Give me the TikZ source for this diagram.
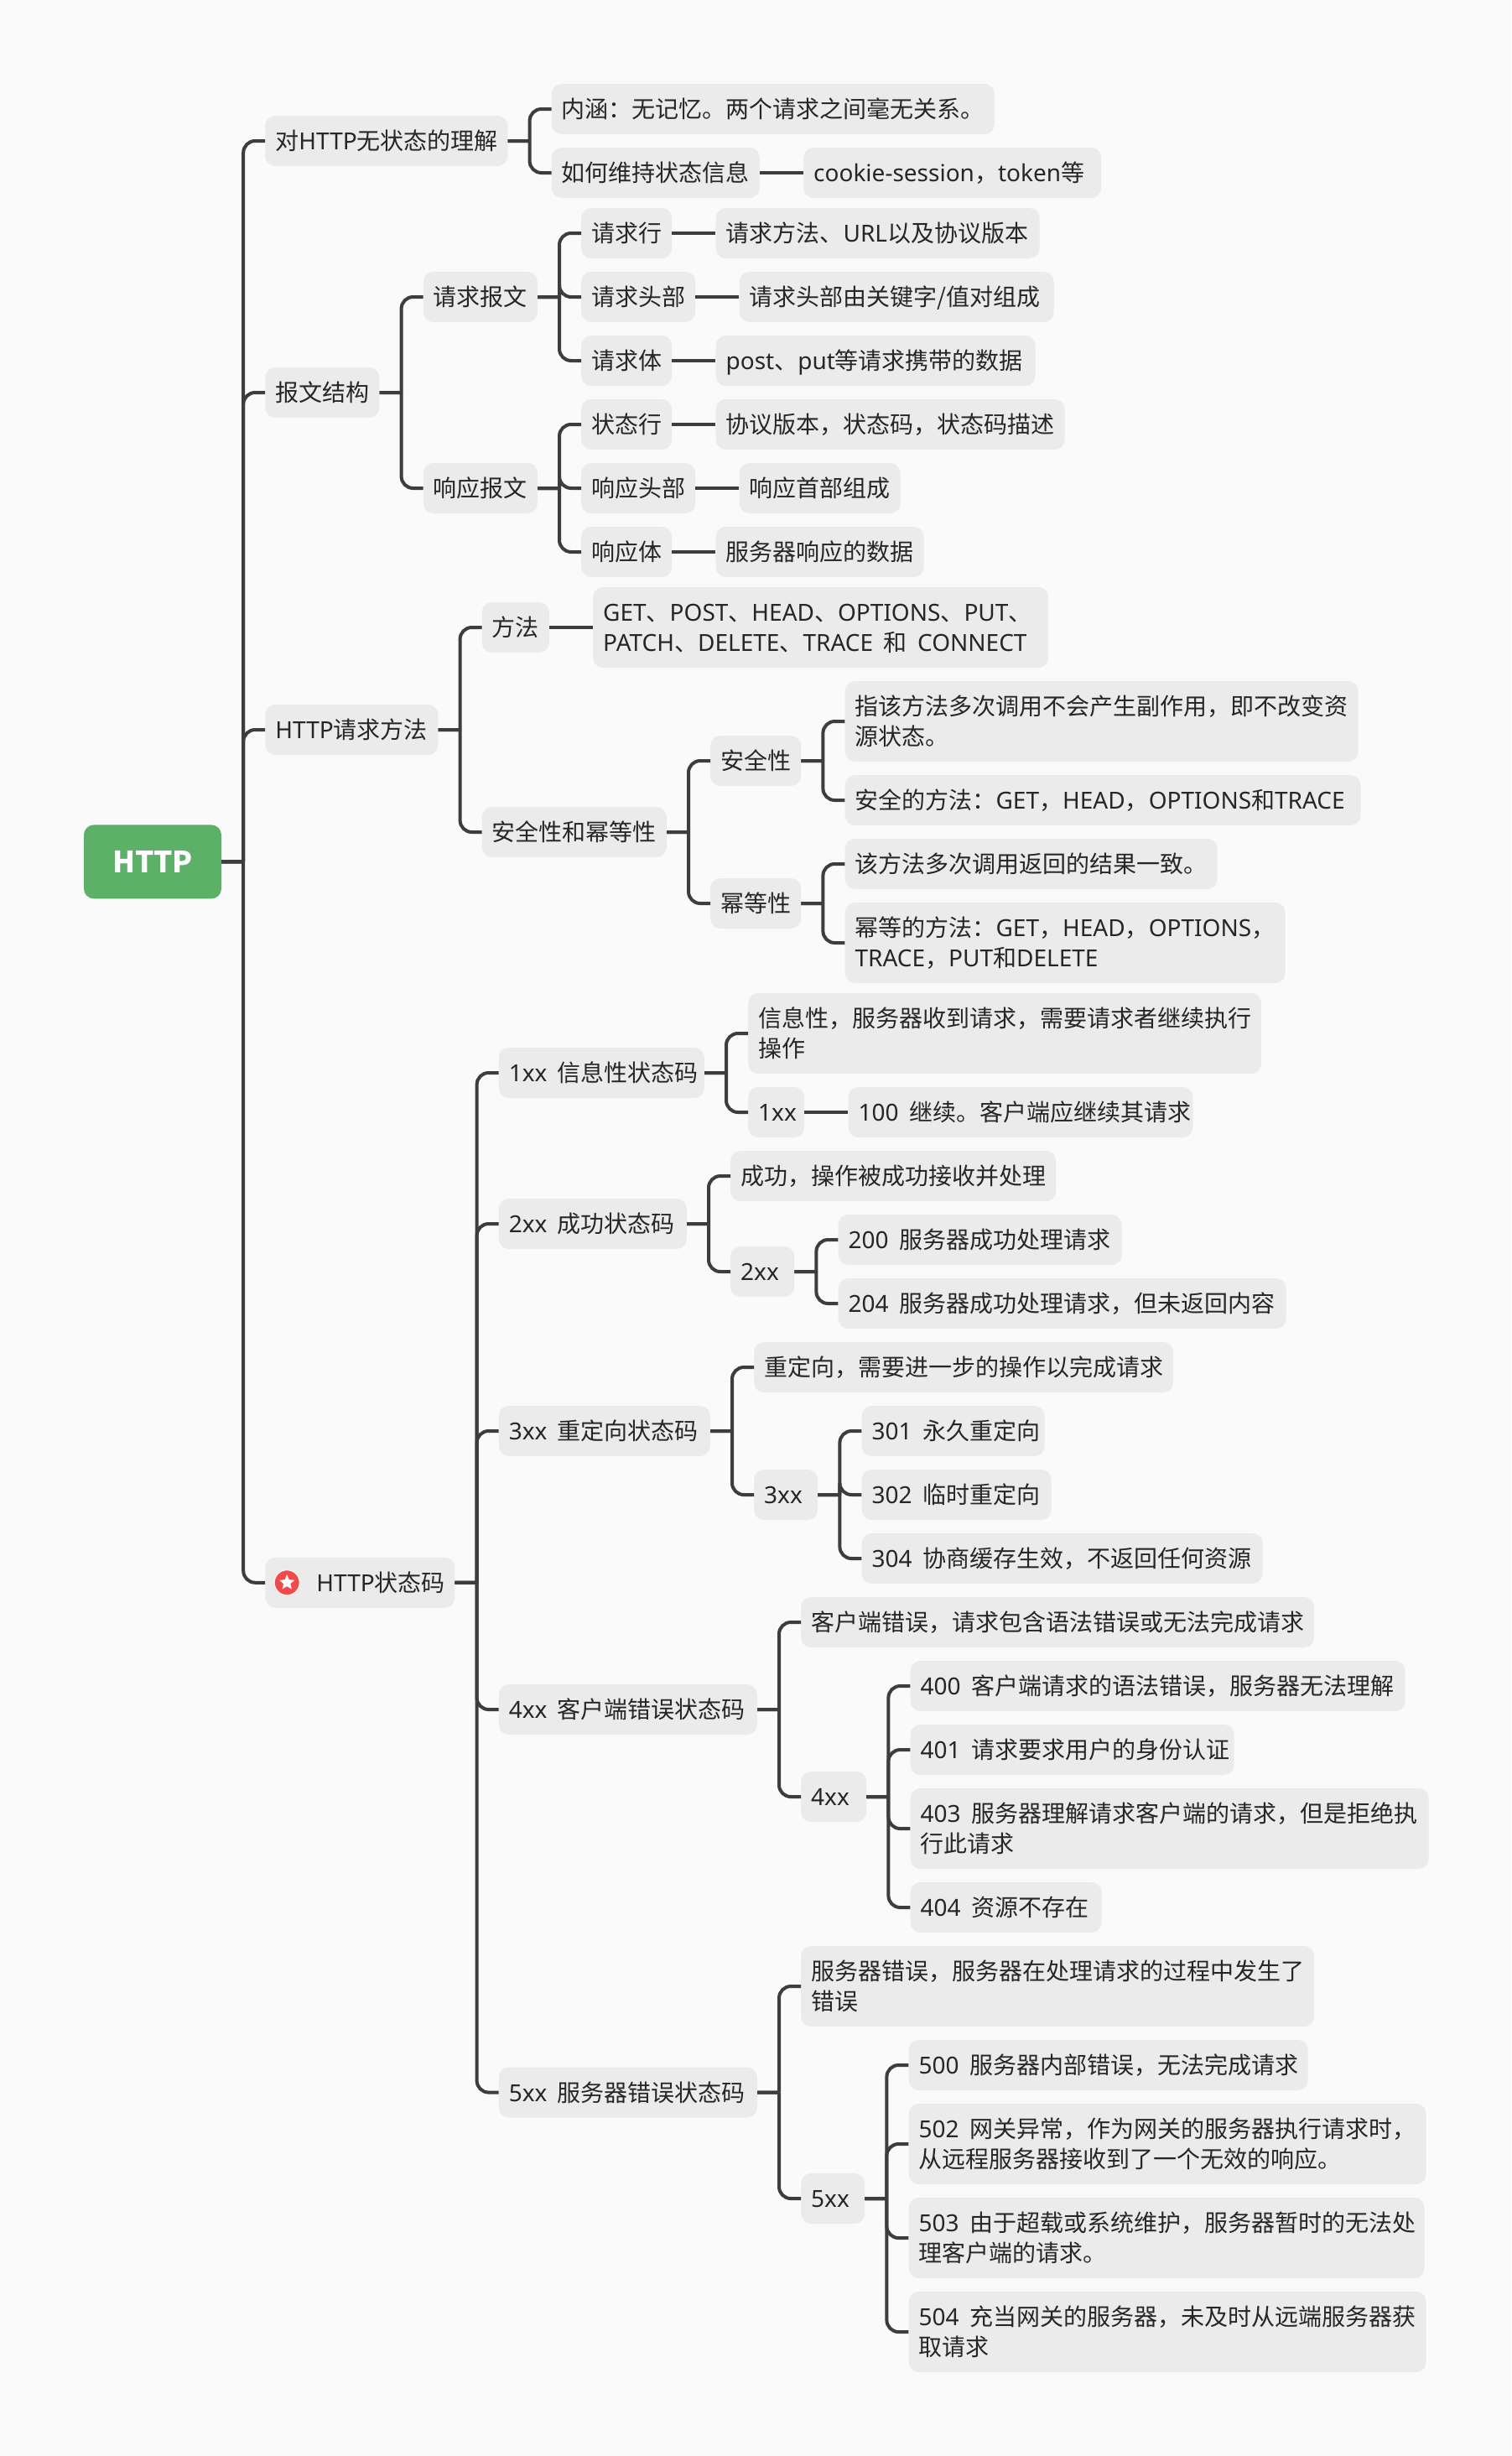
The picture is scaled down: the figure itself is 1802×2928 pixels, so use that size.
\documentclass[tikz,border=0pt]{standalone}
\usepackage{fontspec}
\usepackage{xcolor}
\usepackage{tikz}
\usetikzlibrary{positioning}
\usetikzlibrary{shapes.geometric}
\setmainfont{Noto Sans CJK SC}
\newfontfamily\latinface{Noto Sans}
\newcommand{\la}[1]{{\latinface #1}}
\definecolor{paper}{HTML}{FAFAFA}
\definecolor{boxgray}{HTML}{EBEBEB}
\definecolor{wire}{HTML}{3D3D3D}
\definecolor{ink}{HTML}{262626}
\definecolor{rootgreen}{HTML}{5CB068}
\definecolor{badgered}{HTML}{F2494B}
\newcommand{\widespace}{\spaceskip 12.5pt\relax}
\tikzset{
	topic/.style={fill=boxgray, text=ink, rounded corners=12pt, inner xsep=12pt, inner ysep=0pt, minimum height=60pt, align=left, text height=24.64pt, text depth=3.36pt, font=\fontsize{28}{36}\selectfont, execute at begin node=\widespace},
	twoline/.style={topic, minimum height=96pt, text depth=39.36pt},
	roottopic/.style={fill=rootgreen, text=white, rounded corners=12pt, minimum width=164pt, minimum height=88pt, inner sep=0pt, font=\fontsize{35}{42}\selectfont\bfseries},
	link/.style={draw=wire, line width=4pt},
	fork/.style={rounded corners=14pt, to path={(\tikztostart.east) -- ++(26pt,0) (\tikztostart.east) ++(26pt,0) |- (\tikztotarget.west)}},
	badge/.style={circle, fill=badgered, draw=white, line width=1pt, minimum size=30pt, inner sep=0pt},
	badgestar/.style={star, star points=5, star point ratio=2.2, fill=white, minimum size=19pt, inner sep=0pt},
	node distance=52pt
}
\begin{document}
\begin{tikzpicture}
	\useasboundingbox (0,0) rectangle (1802pt,-2928pt);
	\fill[paper] (0,0) rectangle (1802pt,-2928pt);

	\node[roottopic] (http) at (182pt,-1027.4pt) {HTTP};

	\node[topic, text width=265pt, right=of http, yshift=859.4pt] (concept) {对\la{HTTP}无状态的理解};
	\node[topic, text width=112pt, right=of http, yshift=559.4pt] (struct) {报文结构};
	\node[topic, text width=182pt, right=of http, yshift=157.4pt] (method) {\la{HTTP}请求方法};
	\node[topic, text width=202pt, right=of http, yshift=-859.35pt] (status) {\hspace*{49pt}\la{HTTP}状态码};
	\node[badge] (badge) at ([xshift=26pt]status.west) {};
	\node[badgestar] (badgemark) at (badge) {};

	\node[topic, text width=504pt, right=of concept, yshift=38pt] (meaning) {内涵：无记忆。两个请求之间毫无关系。};
	\node[topic, text width=224pt, right=of concept, yshift=-38pt] (keep) {如何维持状态信息};
	\node[topic, text width=331pt, right=of keep] (cookie) {\la{cookie-session}，\la{token}等};

	\node[topic, text width=112pt, right=of struct, yshift=114pt] (reqmsg) {请求报文};
	\node[topic, text width=112pt, right=of struct, yshift=-114pt] (resmsg) {响应报文};
	\node[topic, text width=84pt, right=of reqmsg, yshift=76pt] (reqline) {请求行};
	\node[topic, text width=112pt, right=of reqmsg] (reqhead) {请求头部};
	\node[topic, text width=84pt, right=of reqmsg, yshift=-76pt] (reqbody) {请求体};
	\node[topic, text width=362pt, right=of reqline] (reqlinetext) {请求方法、\la{URL}以及协议版本};
	\node[topic, text width=351pt, right=of reqhead] (reqheadtext) {请求头部由关键字/值对组成};
	\node[topic, text width=357pt, right=of reqbody] (reqbodytext) {\la{post}、\la{put}等请求携带的数据};
	\node[topic, text width=84pt, right=of resmsg, yshift=76pt] (resline) {状态行};
	\node[topic, text width=112pt, right=of resmsg] (reshead) {响应头部};
	\node[topic, text width=84pt, right=of resmsg, yshift=-76pt] (resbody) {响应体};
	\node[topic, text width=392pt, right=of resline] (reslinetext) {协议版本，状态码，状态码描述};
	\node[topic, text width=168pt, right=of reshead] (resheadtext) {响应首部组成};
	\node[topic, text width=224pt, right=of resbody] (resbodytext) {服务器响应的数据};

	\node[topic, text width=56pt, right=of method, yshift=122pt] (verbs) {方法};
	\node[topic, text width=196pt, right=of method, yshift=-122pt] (safeidem) {安全性和幂等性};
	\node[twoline, text width=519pt, right=of verbs] (verblist) {\la{GET}、\la{POST}、\la{HEAD}、\la{OPTIONS}、\la{PUT}、\\\la{PATCH}、\la{DELETE}、\la{TRACE} 和 \la{CONNECT}};
	\node[topic, text width=84pt, right=of safeidem, yshift=85pt] (safe) {安全性};
	\node[topic, text width=84pt, right=of safeidem, yshift=-85pt] (idem) {幂等性};
	\node[twoline, text width=588pt, right=of safe, yshift=47pt] (safedef) {指该方法多次调用不会产生副作用，即不改变资\\源状态。};
	\node[topic, text width=591pt, right=of safe, yshift=-47pt] (safelist) {安全的方法：\la{GET}，\la{HEAD}，\la{OPTIONS}和\la{TRACE}};
	\node[topic, text width=420pt, right=of idem, yshift=47pt] (idemdef) {该方法多次调用返回的结果一致。};
	\node[twoline, text width=501pt, right=of idem, yshift=-47pt] (idemlist) {幂等的方法：\la{GET}，\la{HEAD}，\la{OPTIONS}，\\\la{TRACE}，\la{PUT}和\la{DELETE}};

	\node[topic, text width=221pt, right=of status, yshift=607.75pt] (codeone) {\la{1xx}~信息性状态码};
	\node[topic, text width=200pt, right=of status, yshift=427.75pt] (codetwo) {\la{2xx}~成功状态码};
	\node[topic, text width=228pt, right=of status, yshift=180.75pt] (codethree) {\la{3xx}~重定向状态码};
	\node[topic, text width=284pt, right=of status, yshift=-151.25pt] (codefour) {\la{4xx}~客户端错误状态码};
	\node[topic, text width=284pt, right=of status, yshift=-607.75pt] (codefive) {\la{5xx}~服务器错误状态码};

	\node[twoline, text width=588pt, right=of codeone, yshift=47pt] (infoone) {信息性，服务器收到请求，需要请求者继续执行\\操作};
	\node[topic, text width=43pt, right=of codeone, yshift=-47pt] (groupone) {\la{1xx}};
	\node[topic, text width=387pt, right=of groupone] (cont) {\la{100}~继续。客户端应继续其请求};

	\node[topic, text width=364pt, right=of codetwo, yshift=57pt] (infotwo) {成功，操作被成功接收并处理};
	\node[topic, text width=52pt, right=of codetwo, yshift=-57pt] (grouptwo) {\la{2xx}};
	\node[topic, text width=314pt, right=of grouptwo, yshift=38pt] (okfull) {\la{200}~服务器成功处理请求};
	\node[topic, text width=510pt, right=of grouptwo, yshift=-38pt] (okempty) {\la{204}~服务器成功处理请求，但未返回内容};

	\node[topic, text width=476pt, right=of codethree, yshift=76pt] (infothree) {重定向，需要进一步的操作以完成请求};
	\node[topic, text width=52pt, right=of codethree, yshift=-76pt] (groupthree) {\la{3xx}};
	\node[topic, text width=194pt, right=of groupthree, yshift=76pt] (moved) {\la{301}~永久重定向};
	\node[topic, text width=202pt, right=of groupthree] (found) {\la{302}~临时重定向};
	\node[topic, text width=454pt, right=of groupthree, yshift=-76pt] (cached) {\la{304}~协商缓存生效，不返回任何资源};

	\node[topic, text width=588pt, right=of codefour, yshift=104pt] (infofour) {客户端错误，请求包含语法错误或无法完成请求};
	\node[topic, text width=54pt, right=of codefour, yshift=-104pt] (groupfour) {\la{4xx}};
	\node[topic, text width=566pt, right=of groupfour, yshift=132pt] (badreq) {\la{400}~客户端请求的语法错误，服务器无法理解};
	\node[topic, text width=362pt, right=of groupfour, yshift=56pt] (unauth) {\la{401}~请求要求用户的身份认证};
	\node[twoline, text width=594pt, right=of groupfour, yshift=-38pt] (forbid) {\la{403}~服务器理解请求客户端的请求，但是拒绝执\\行此请求};
	\node[topic, text width=204pt, right=of groupfour, yshift=-132pt] (missing) {\la{404}~资源不存在};

	\node[twoline, text width=588pt, right=of codefive, yshift=126.5pt] (infofive) {服务器错误，服务器在处理请求的过程中发生了\\错误};
	\node[topic, text width=52pt, right=of codefive, yshift=-126.5pt] (groupfive) {\la{5xx}};
	\node[topic, text width=452pt, right=of groupfive, yshift=159pt] (internal) {\la{500}~服务器内部错误，无法完成请求};
	\node[twoline, text width=593pt, right=of groupfive, yshift=65pt] (badgate) {\la{502}~网关异常，作为网关的服务器执行请求时，\\从远程服务器接收到了一个无效的响应。};
	\node[twoline, text width=591pt, right=of groupfive, yshift=-47pt] (unavail) {\la{503}~由于超载或系统维护，服务器暂时的无法处\\理客户端的请求。};
	\node[twoline, text width=593pt, right=of groupfive, yshift=-159pt] (timeout) {\la{504}~充当网关的服务器，未及时从远端服务器获\\取请求};

	\path[link] (http) edge[fork] (concept);
	\path[link] (http) edge[fork] (struct);
	\path[link] (http) edge[fork] (method);
	\path[link] (http) edge[fork] (status);

	\path[link] (concept) edge[fork] (meaning);
	\path[link] (concept) edge[fork] (keep);
	\path[link] (keep) edge (cookie);

	\path[link] (struct) edge[fork] (reqmsg);
	\path[link] (struct) edge[fork] (resmsg);
	\path[link] (reqmsg) edge[fork] (reqline);
	\path[link] (reqmsg) edge[fork] (reqhead);
	\path[link] (reqmsg) edge[fork] (reqbody);
	\path[link] (reqline) edge (reqlinetext);
	\path[link] (reqhead) edge (reqheadtext);
	\path[link] (reqbody) edge (reqbodytext);
	\path[link] (resmsg) edge[fork] (resline);
	\path[link] (resmsg) edge[fork] (reshead);
	\path[link] (resmsg) edge[fork] (resbody);
	\path[link] (resline) edge (reslinetext);
	\path[link] (reshead) edge (resheadtext);
	\path[link] (resbody) edge (resbodytext);

	\path[link] (method) edge[fork] (verbs);
	\path[link] (method) edge[fork] (safeidem);
	\path[link] (verbs) edge (verblist);
	\path[link] (safeidem) edge[fork] (safe);
	\path[link] (safeidem) edge[fork] (idem);
	\path[link] (safe) edge[fork] (safedef);
	\path[link] (safe) edge[fork] (safelist);
	\path[link] (idem) edge[fork] (idemdef);
	\path[link] (idem) edge[fork] (idemlist);

	\path[link] (status) edge[fork] (codeone);
	\path[link] (status) edge[fork] (codetwo);
	\path[link] (status) edge[fork] (codethree);
	\path[link] (status) edge[fork] (codefour);
	\path[link] (status) edge[fork] (codefive);

	\path[link] (codeone) edge[fork] (infoone);
	\path[link] (codeone) edge[fork] (groupone);
	\path[link] (groupone) edge (cont);

	\path[link] (codetwo) edge[fork] (infotwo);
	\path[link] (codetwo) edge[fork] (grouptwo);
	\path[link] (grouptwo) edge[fork] (okfull);
	\path[link] (grouptwo) edge[fork] (okempty);

	\path[link] (codethree) edge[fork] (infothree);
	\path[link] (codethree) edge[fork] (groupthree);
	\path[link] (groupthree) edge[fork] (moved);
	\path[link] (groupthree) edge[fork] (found);
	\path[link] (groupthree) edge[fork] (cached);

	\path[link] (codefour) edge[fork] (infofour);
	\path[link] (codefour) edge[fork] (groupfour);
	\path[link] (groupfour) edge[fork] (badreq);
	\path[link] (groupfour) edge[fork] (unauth);
	\path[link] (groupfour) edge[fork] (forbid);
	\path[link] (groupfour) edge[fork] (missing);

	\path[link] (codefive) edge[fork] (infofive);
	\path[link] (codefive) edge[fork] (groupfive);
	\path[link] (groupfive) edge[fork] (internal);
	\path[link] (groupfive) edge[fork] (badgate);
	\path[link] (groupfive) edge[fork] (unavail);
	\path[link] (groupfive) edge[fork] (timeout);
\end{tikzpicture}
\end{document}
